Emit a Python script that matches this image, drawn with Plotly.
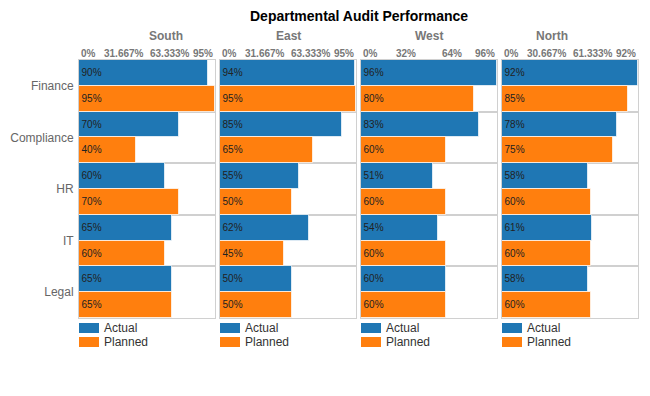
import plotly.graph_objects as go

categories = ["Finance", "Compliance", "HR", "IT", "Legal"]
regions = ["South", "East", "West", "North"]
actual = {
    "South": [90, 70, 60, 65, 65],
    "East": [94, 85, 55, 62, 50],
    "West": [96, 83, 51, 54, 60],
    "North": [92, 78, 58, 61, 58],
}
planned = {
    "South": [95, 40, 70, 60, 65],
    "East": [95, 65, 50, 45, 50],
    "West": [80, 60, 60, 60, 60],
    "North": [85, 75, 60, 60, 60],
}
series_names = ["Actual", "Planned"]
colors = ["#1f77b4", "#ff7f0e"]

W, H = 650, 396
ml, mr, mt, mb = 79, 12, 60, 78
pw = W - ml - mr
gap = 5
panel_w = (pw - 3 * gap) / 4
FONT = "Liberation Sans, Arial, sans-serif"

def fmt(v):
    s = f"{v:.3f}".rstrip("0").rstrip(".")
    return s + "%"

fig = go.Figure()
annotations = []
shapes = []
for i, reg in enumerate(regions):
    n = "" if i == 0 else str(i + 1)
    x0 = (i * (panel_w + gap)) / pw
    x1 = (i * (panel_w + gap) + panel_w) / pw
    for s_i, (name, data) in enumerate(zip(series_names, [actual, planned])):
        fig.add_trace(go.Bar(
            y=categories, x=data[reg], orientation="h", name=name,
            marker=dict(color=colors[s_i], line=dict(color="rgba(255,255,255,0.7)", width=1)),
            text=[f"{v}%" for v in data[reg]], textposition="inside",
            insidetextanchor="start", textfont=dict(size=10, color="#222", family=FONT),
            xaxis="x" + n, yaxis="y" + n, showlegend=False, hoverinfo="skip",
        ))
    mx = max(max(actual[reg]), max(planned[reg]))
    ticks = [0, mx / 3, 2 * mx / 3, mx]
    fig.layout["xaxis" + n] = dict(
        domain=[x0, x1], range=[0, mx], anchor="y" + n, side="top",
        showticklabels=False, showgrid=False, zeroline=False, automargin=False,
        showline=True, mirror=True, linecolor="#d0d0d0", linewidth=1,
    )
    fig.layout["yaxis" + n] = dict(
        anchor="x" + n, type="category", categoryarray=categories,
        autorange="reversed", showgrid=True, gridcolor="#d0d0d0", gridwidth=1.5,
        tickson="boundaries", ticks="", showline=True, mirror=True,
        linecolor="#d0d0d0", linewidth=1, zeroline=False, automargin=False,
        showticklabels=(i == 0), tickfont=dict(size=12, color="#666", family=FONT),
        ticklabelstandoff=2,
        **({} if i == 0 else {"matches": "y"}),
    )
    for k, t in enumerate(ticks):
        annotations.append(dict(
            x=t, y=1, xref="x" + n, yref="paper", yanchor="bottom", yshift=-1,
            xanchor="left" if k == 0 else ("right" if k == 3 else "center"),
            text=f"<b>{fmt(t)}</b>", showarrow=False,
            font=dict(size=10, color="#777", family=FONT),
        ))
    annotations.append(dict(
        x=(x0 + x1) / 2, y=1, xref="paper", yref="paper", yanchor="bottom", yshift=15,
        text=f"<b>{reg}</b>", showarrow=False, font=dict(size=12, color="#777", family=FONT),
    ))
    # legend per panel
    for s_i, name in enumerate(series_names):
        ytop = -(5 + s_i * 14) / (H - mt - mb)
        ybot = -(15 + s_i * 14) / (H - mt - mb)
        shapes.append(dict(
            type="rect", xref="paper", yref="paper",
            x0=x0, x1=x0 + 20 / pw, y0=ybot, y1=ytop,
            fillcolor=colors[s_i], line=dict(width=0),
        ))
        annotations.append(dict(
            x=x0 + 23 / pw, y=(ytop + ybot) / 2, xref="paper", yref="paper",
            xanchor="left", yanchor="middle", text=name, showarrow=False,
            font=dict(size=12, color="#333", family=FONT),
        ))

annotations.append(dict(
    x=0.5, y=1, xref="paper", yref="paper", yanchor="bottom", yshift=34,
    text="<b>Departmental Audit Performance</b>", showarrow=False,
    font=dict(size=14, color="#000", family=FONT),
))

fig.update_layout(
    width=W, height=H, margin=dict(l=ml, r=mr, t=mt, b=mb, autoexpand=False),
    barmode="group", bargap=0, bargroupgap=0,
    plot_bgcolor="white", paper_bgcolor="white",
    annotations=annotations, shapes=shapes,
    font=dict(family=FONT), uniformtext=dict(mode="show", minsize=10),
)
fig.write_html(
    "out.html",
    config={"displayModeBar": False},
    post_script="document.body.style.margin='0';document.body.style.overflow='hidden';",
)
